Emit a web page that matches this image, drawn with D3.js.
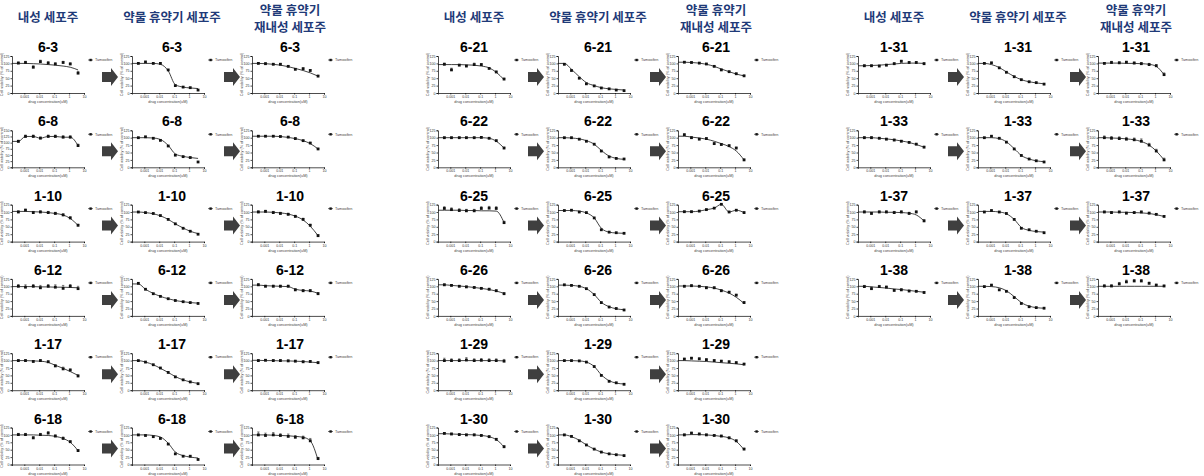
<!DOCTYPE html>
<html>
<head>
<meta charset="utf-8">
<script src="https://cdn.jsdelivr.net/npm/d3@7"></script>
<style>
  body { margin: 0; background: #fff; }
  svg { display: block; }
  .hdr { font-family: "Noto Sans CJK KR", sans-serif; font-weight: 700; font-size: 12.5px; fill: #1f3a78; }
  .ttl { font-family: "Liberation Sans", Arial, sans-serif; font-weight: 700; font-size: 14px; fill: #000; }
  .axis text { font-family: "Liberation Sans", Arial, sans-serif; font-size: 3.6px; fill: #333; }
  .axis path, .axis line { stroke: #000; stroke-width: 0.7; }
  .small { font-family: "Liberation Sans", Arial, sans-serif; font-size: 3.8px; fill: #444; }
</style>
</head>
<body>
<div id="fig"></div>
<script>
// drug concentrations (uM) and axis ticks
var conc = [0.0004, 0.0012, 0.004, 0.012, 0.04, 0.12, 0.4, 1.2, 4];
var xTicks = [0.001, 0.01, 0.1, 1, 10];
var yTicks = [0, 25, 50, 75, 100, 125, 150];

var headers = [["내성 세포주"], ["약물 휴약기 세포주"], ["약물 휴약기", "재내성 세포주"]];
var panelLines = [
  ["6-3", "6-8", "1-10", "6-12", "1-17", "6-18"],
  ["6-21", "6-22", "6-25", "6-26", "1-29", "1-30"],
  ["1-31", "1-33", "1-37", "1-38"]
];
var drugName = "Tamoxifen";

// cell viability (% of control), one row per cell line, in panelLines order
var parental = [
  [101,103,87,106,101,98,103,98,67],
  [105,125,125,118,125,125,122,122,88],
  [100,106,98,100,98,95,90,80,55],
  [100,97,100,95,100,97,93,100,92],
  [100,100,97,100,96,82,72,68,48],
  [101,101,90,101,106,96,88,77,47],
  [97,78,94,91,96,96,83,71,47],
  [100,100,100,100,100,101,98,90,65],
  [112,108,105,104,104,112,113,112,64],
  [105,103,100,98,96,93,90,85,75],
  [100,100,100,102,100,101,100,100,98],
  [105,103,101,100,100,98,94,85,60],
  [92,92,91,94,99,107,103,103,99],
  [100,100,98,95,92,88,84,78,68],
  [100,95,100,100,98,100,95,100,70],
  [99,92,99,97,86,88,84,83,79]
];
var parentalFit = [
  [100,100,99,98,96,94,91,87,78],
  [105,125,125,118,125,125,122,122,88],
  [102,102,101,100,98,95,90,78,55],
  [99,99,99,98,98,97,97,96,95],
  [100,100,99,98,94,84,74,63,50],
  [100,100,100,99,98,95,88,75,47],
  [96,96,96,95,94,91,85,70,45],
  [100,100,100,100,100,100,98,88,65],
  [106,106,106,105,105,104,104,103,64],
  [105,103,101,99,96,93,89,84,76],
  [100,100,100,100,100,100,100,100,99],
  [104,103,102,101,100,98,94,84,60],
  [92,93,94,96,98,100,101,101,100],
  [100,100,98,96,93,89,84,77,68],
  [100,100,100,99,99,98,96,90,70],
  [100,98,96,94,91,89,86,83,80]
];
var parentalErr = [
  [4,4,5,5,5,4,4,4,6],
  [5,6,6,5,6,6,6,6,6],
  [4,4,4,4,4,4,4,4,4],
  [6,8,6,8,6,8,10,6,8],
  [3,3,3,3,3,4,6,4,4],
  [4,4,4,4,5,4,5,3,3],
  [4,6,3,3,5,3,3,3,3],
  [2,2,2,2,2,2,2,2,3],
  [6,6,6,5,5,6,6,6,5],
  [3,3,3,3,3,3,3,3,3],
  [8,6,6,8,6,6,6,6,6],
  [3,3,3,3,3,3,3,3,3],
  [3,3,3,3,3,4,3,3,3],
  [3,3,3,3,3,3,3,3,3],
  [4,4,4,4,4,4,4,4,4],
  [4,6,4,4,4,4,3,3,3]
];

var holiday = [
  [100,105,100,100,78,25,20,18,10],
  [100,103,98,91,72,41,36,33,18],
  [100,98,95,88,75,60,45,35,25],
  [110,90,75,66,58,52,48,45,42],
  [100,95,86,75,60,45,35,28,22],
  [100,98,94,88,69,36,28,28,17],
  [97,76,50,31,24,17,14,10,8],
  [100,100,95,88,78,55,35,30,28],
  [105,106,100,98,80,40,32,30,28],
  [105,103,100,92,72,45,30,25,20],
  [100,100,99,95,80,50,30,25,20],
  [100,95,80,66,52,42,36,33,30],
  [100,102,85,70,55,45,38,35,30],
  [100,105,98,85,62,40,28,22,18],
  [100,105,100,95,75,45,40,35,30],
  [99,104,88,83,62,42,31,28,26]
];
var holidayFit = [
  [100,100,100,97,75,28,20,17,15],
  [100,100,99,94,74,45,37,33,30],
  [100,98,94,87,75,60,46,35,27],
  [108,90,76,66,58,52,48,45,43],
  [100,95,86,74,60,46,35,28,23],
  [100,100,98,93,72,42,30,25,22],
  [100,80,55,35,25,18,14,12,10],
  [100,99,96,90,78,57,38,30,27],
  [105,105,103,97,80,45,32,29,28],
  [104,103,100,92,72,46,31,24,21],
  [100,100,99,95,80,52,32,24,21],
  [100,94,82,66,52,42,36,33,31],
  [100,96,86,71,56,45,38,34,31],
  [100,100,97,86,63,40,28,22,19],
  [102,102,100,94,75,48,38,34,32],
  [100,99,95,85,65,45,33,28,26]
];

var rechallenged = [
  [100,99,97,97,90,80,82,76,57],
  [105,105,105,104,102,97,90,82,62],
  [100,102,98,95,92,85,75,55,20],
  [105,100,100,100,100,88,85,85,75],
  [100,101,100,100,99,98,96,97,93],
  [100,98,100,98,95,92,90,80,20],
  [104,103,101,98,90,78,72,65,58],
  [110,100,95,97,80,77,73,65,25],
  [101,101,103,108,113,126,100,106,98],
  [100,102,100,95,95,85,80,70,45],
  [105,108,106,103,100,98,96,93,88],
  [100,106,103,100,98,96,90,80,52],
  [100,103,102,104,101,99,96,92,62],
  [100,98,97,95,93,88,75,55,25],
  [100,98,100,96,98,100,96,92,85],
  [101,101,108,115,118,118,110,104,101]
];
var rechallengedFit = [
  [100,99,97,94,89,83,76,68,57],
  [105,105,105,104,101,97,90,80,62],
  [100,100,99,97,93,86,73,52,20],
  [104,102,101,100,99,90,86,84,76],
  [101,100,100,99,99,98,97,95,93],
  [100,100,99,98,97,95,92,80,15],
  [104,103,101,97,90,81,72,64,58],
  [105,102,99,95,88,80,70,55,25],
  [101,101,103,108,113,126,100,106,98],
  [101,101,100,98,94,87,77,63,42],
  [100,99,98,97,95,93,91,89,86],
  [100,101,101,100,98,95,90,78,50],
  [101,101,101,100,100,99,97,90,62],
  [100,99,98,96,93,87,75,55,25],
  [100,100,99,99,98,97,95,91,85],
  [100,100,100,100,100,100,100,100,100]
];
var rechallengedErr = [
  [3,3,3,3,3,3,3,3,3],
  [2,2,2,2,2,2,2,2,2],
  [4,4,4,4,4,4,4,4,4],
  [4,4,4,4,4,4,4,4,4],
  [3,3,3,3,3,3,3,3,3],
  [10,8,8,6,8,6,6,8,4],
  [2,2,2,2,2,2,2,2,2],
  [3,3,3,3,3,3,3,3,3],
  [2,2,2,2,2,2,2,2,2],
  [3,3,3,3,3,3,3,3,3],
  [3,3,3,3,3,3,3,3,3],
  [3,3,3,3,3,3,3,3,3],
  [3,4,3,3,4,4,4,4,6],
  [6,6,6,6,6,8,6,6,6],
  [3,3,3,3,3,3,3,3,3],
  [4,4,5,6,5,5,4,3,3]
];

var W = 1204, H = 476;
var panelX = [0, 426, 846];
var colAxisX = [12, 132, 252];   // left edge of each mini plot inside a panel
var colTitleX = [48, 172, 290];
var arrowX = [102, 224];
var plotW = 72, plotH = 37;
var rowStep = 74.3, firstTop = 56;

var svg = d3.select("#fig").append("svg")
  .attr("width", W).attr("height", H);

var x = d3.scaleLog().domain([1.5e-4, 10]).range([0, plotW]);

var seriesByCol = [
  [parental, parentalFit, parentalErr],
  [holiday, holidayFit, null],
  [rechallenged, rechallengedFit, rechallengedErr]
];

var line = d3.line().curve(d3.curveMonotoneX);

function miniChart(g, pts, fit, err, name) {
  var top = d3.max(pts.map(function(v, i){ return v + (err ? err[i] : 0); }));
  var yMax = top > 128 ? 150 : 125;
  var y = d3.scaleLinear().domain([0, yMax]).range([plotH, 0]);

  g.append("g").attr("class", "axis")
    .call(d3.axisLeft(y).tickValues(yTicks.filter(function(t){ return t <= yMax; })).tickSize(1.5).tickPadding(1));
  g.append("g").attr("class", "axis")
    .attr("transform", "translate(0," + plotH + ")")
    .call(d3.axisBottom(x).tickValues(xTicks).tickFormat(d3.format("~g")).tickSize(1.5).tickPadding(1));
  g.selectAll(".axis .domain").attr("stroke-width", 0.8);

  g.append("text").attr("class", "small")
    .attr("transform", "translate(-9," + (plotH / 2) + ") rotate(-90)")
    .attr("text-anchor", "middle")
    .text("Cell viability (% of control)");
  g.append("text").attr("class", "small")
    .attr("x", plotW / 2).attr("y", plotH + 10)
    .attr("text-anchor", "middle")
    .text("drug concentration(uM)");

  // fitted curve, held flat back to the y axis
  var fitPts = [[x(x.domain()[0]), y(fit[0])]].concat(fit.map(function(v, i){ return [x(conc[i]), y(v)]; }));
  g.append("path")
    .attr("d", line(fitPts))
    .attr("fill", "none")
    .attr("stroke", "#111")
    .attr("stroke-width", 0.8);

  if (err) {
    g.selectAll(".eb").data(pts).enter()
      .append("path")
      .attr("d", function(d, i){
        var cx = x(conc[i]), y1 = y(d + err[i]);
        return "M" + cx + "," + y(d) + "V" + y1 + "M" + (cx - 1.2) + "," + y1 + "H" + (cx + 1.2);
      })
      .attr("stroke", "#111").attr("stroke-width", 0.5).attr("fill", "none");
  }

  g.selectAll(".pt").data(pts).enter()
    .append("rect")
    .attr("x", function(d, i){ return x(conc[i]) - 1.4; })
    .attr("y", function(d){ return y(d) - 1.4; })
    .attr("width", 2.8).attr("height", 2.8)
    .attr("fill", "#111");

  // legend
  g.append("line")
    .attr("x1", plotW + 4).attr("x2", plotW + 9)
    .attr("y1", 4).attr("y2", 4)
    .attr("stroke", "#111").attr("stroke-width", 0.6);
  g.append("rect")
    .attr("x", plotW + 5.4).attr("y", 2.8).attr("width", 2.4).attr("height", 2.4)
    .attr("fill", "#111");
  g.append("text").attr("class", "small")
    .attr("x", plotW + 11).attr("y", 5.3)
    .text(drugName);
}

function arrow(g, cx, cy) {
  var p = d3.path();
  p.moveTo(cx - 8, cy - 5);
  p.lineTo(cx + 1, cy - 5);
  p.lineTo(cx + 1, cy - 9);
  p.lineTo(cx + 8, cy);
  p.lineTo(cx + 1, cy + 9);
  p.lineTo(cx + 1, cy + 5);
  p.lineTo(cx - 8, cy + 5);
  p.closePath();
  g.append("path").attr("d", p.toString()).attr("fill", "#3f3f3f");
}

var idx = 0;
panelLines.forEach(function(lines, p) {
  var panel = svg.append("g").attr("transform", "translate(" + panelX[p] + ",0)");

  headers.forEach(function(hd, c) {
    var t = panel.append("text").attr("class", "hdr")
      .attr("text-anchor", "middle")
      .attr("x", colTitleX[c]);
    if (hd.length == 1) {
      t.attr("y", 22).text(hd[0]);
    } else {
      t.attr("y", 15).text(hd[0]);
      panel.append("text").attr("class", "hdr")
        .attr("text-anchor", "middle")
        .attr("x", colTitleX[c]).attr("y", 32).text(hd[1]);
    }
  });

  lines.forEach(function(name, r) {
    var top = firstTop + r * rowStep;
    seriesByCol.forEach(function(s, c) {
      panel.append("text").attr("class", "ttl")
        .attr("text-anchor", "middle")
        .attr("x", colTitleX[c]).attr("y", top - 4)
        .text(name);
      var g = panel.append("g")
        .attr("transform", "translate(" + colAxisX[c] + "," + top + ")");
      miniChart(g, s[0][idx], s[1][idx], s[2] ? s[2][idx] : null, name);
    });
    arrowX.forEach(function(ax) {
      arrow(panel, ax + 8, top + 21);
    });
    idx++;
  });
});
</script>
</body>
</html>
